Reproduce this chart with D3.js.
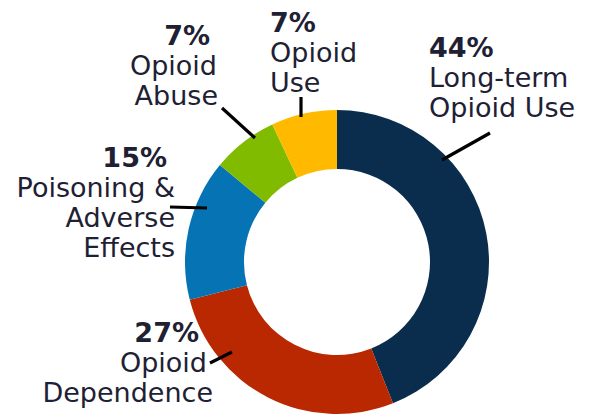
<!DOCTYPE html>
<html>
<head>
<meta charset="utf-8">
<script src="https://cdn.jsdelivr.net/npm/d3@7"></script>
<style>
  html, body { margin: 0; padding: 0; background: #ffffff; }
  svg { display: block; }
  text { font-family: "DejaVu Sans", sans-serif; fill: #1e2133; }
</style>
</head>
<body>
<svg id="chart" width="589" height="415"></svg>
<script>
// ---- data ----
const categories = ["Long-term Opioid Use", "Opioid Dependence", "Poisoning & Adverse Effects", "Opioid Abuse", "Opioid Use"];
const values = [44, 27, 15, 7, 7];
const percentLabels = ["44%", "27%", "15%", "7%", "7%"];
const labelLines = [
  ["Long-term", "Opioid Use"],
  ["Opioid", "Dependence"],
  ["Poisoning &", "Adverse", "Effects"],
  ["Opioid", "Abuse"],
  ["Opioid", "Use"]
];
const colors = ["#0a2d4d", "#b92800", "#0674b4", "#80bb00", "#ffba00"];

// ---- layout (annotation placement) ----
const cx = 337, cy = 262, outerR = 152, innerR = 93;
const lineH = 30;
const labelLayout = [
  { x: 429, y: 57,  anchor: "start", dx: [0, 0, 0],        leader: [[490,133],[442,160]] },
  { x: 212, y: 342, anchor: "end",   dx: [-13, -5, 1],     leader: [[210,363],[232,352]] },
  { x: 175, y: 167, anchor: "end",   dx: [-8, 0, 0, 0],    leader: [[170,207],[207,208]] },
  { x: 218, y: 45,  anchor: "end",   dx: [-8, -1, 0],      leader: [[222,108],[255,138]] },
  { x: 270, y: 32,  anchor: "start", dx: [0, 0, 0],        leader: [[301,97],[301,117]] }
];

const data = categories.map((c, i) => ({
  name: c, value: values[i], pct: percentLabels[i], lines: labelLines[i], color: colors[i], layout: labelLayout[i]
}));

const svg = d3.select("#chart");
const g = svg.append("g").attr("transform", `translate(${cx},${cy})`);

const pie = d3.pie().value(d => d.value).sort(null);
const arc = d3.arc().innerRadius(innerR).outerRadius(outerR);

g.selectAll("path.slice")
  .data(pie(data))
  .join("path")
  .attr("class", "slice")
  .attr("d", arc)
  .attr("fill", d => d.data.color);

// leader lines
svg.selectAll("line.leader")
  .data(data)
  .join("line")
  .attr("class", "leader")
  .attr("x1", d => d.layout.leader[0][0])
  .attr("y1", d => d.layout.leader[0][1])
  .attr("x2", d => d.layout.leader[1][0])
  .attr("y2", d => d.layout.leader[1][1])
  .attr("stroke", "#000")
  .attr("stroke-width", 3.2)
  .attr("stroke-linecap", "butt");

// labels
data.forEach(d => {
  const L = d.layout;
  const t = svg.append("text")
    .attr("text-anchor", L.anchor)
    .attr("font-size", 27);
  t.append("tspan")
    .attr("x", L.x + L.dx[0])
    .attr("y", L.y)
    .attr("font-weight", "bold")
    .text(d.pct);
  d.lines.forEach((ln, j) => {
    t.append("tspan")
      .attr("x", L.x + (L.dx[j + 1] || 0))
      .attr("y", L.y + lineH * (j + 1))
      .text(ln);
  });
});
</script>
</body>
</html>
